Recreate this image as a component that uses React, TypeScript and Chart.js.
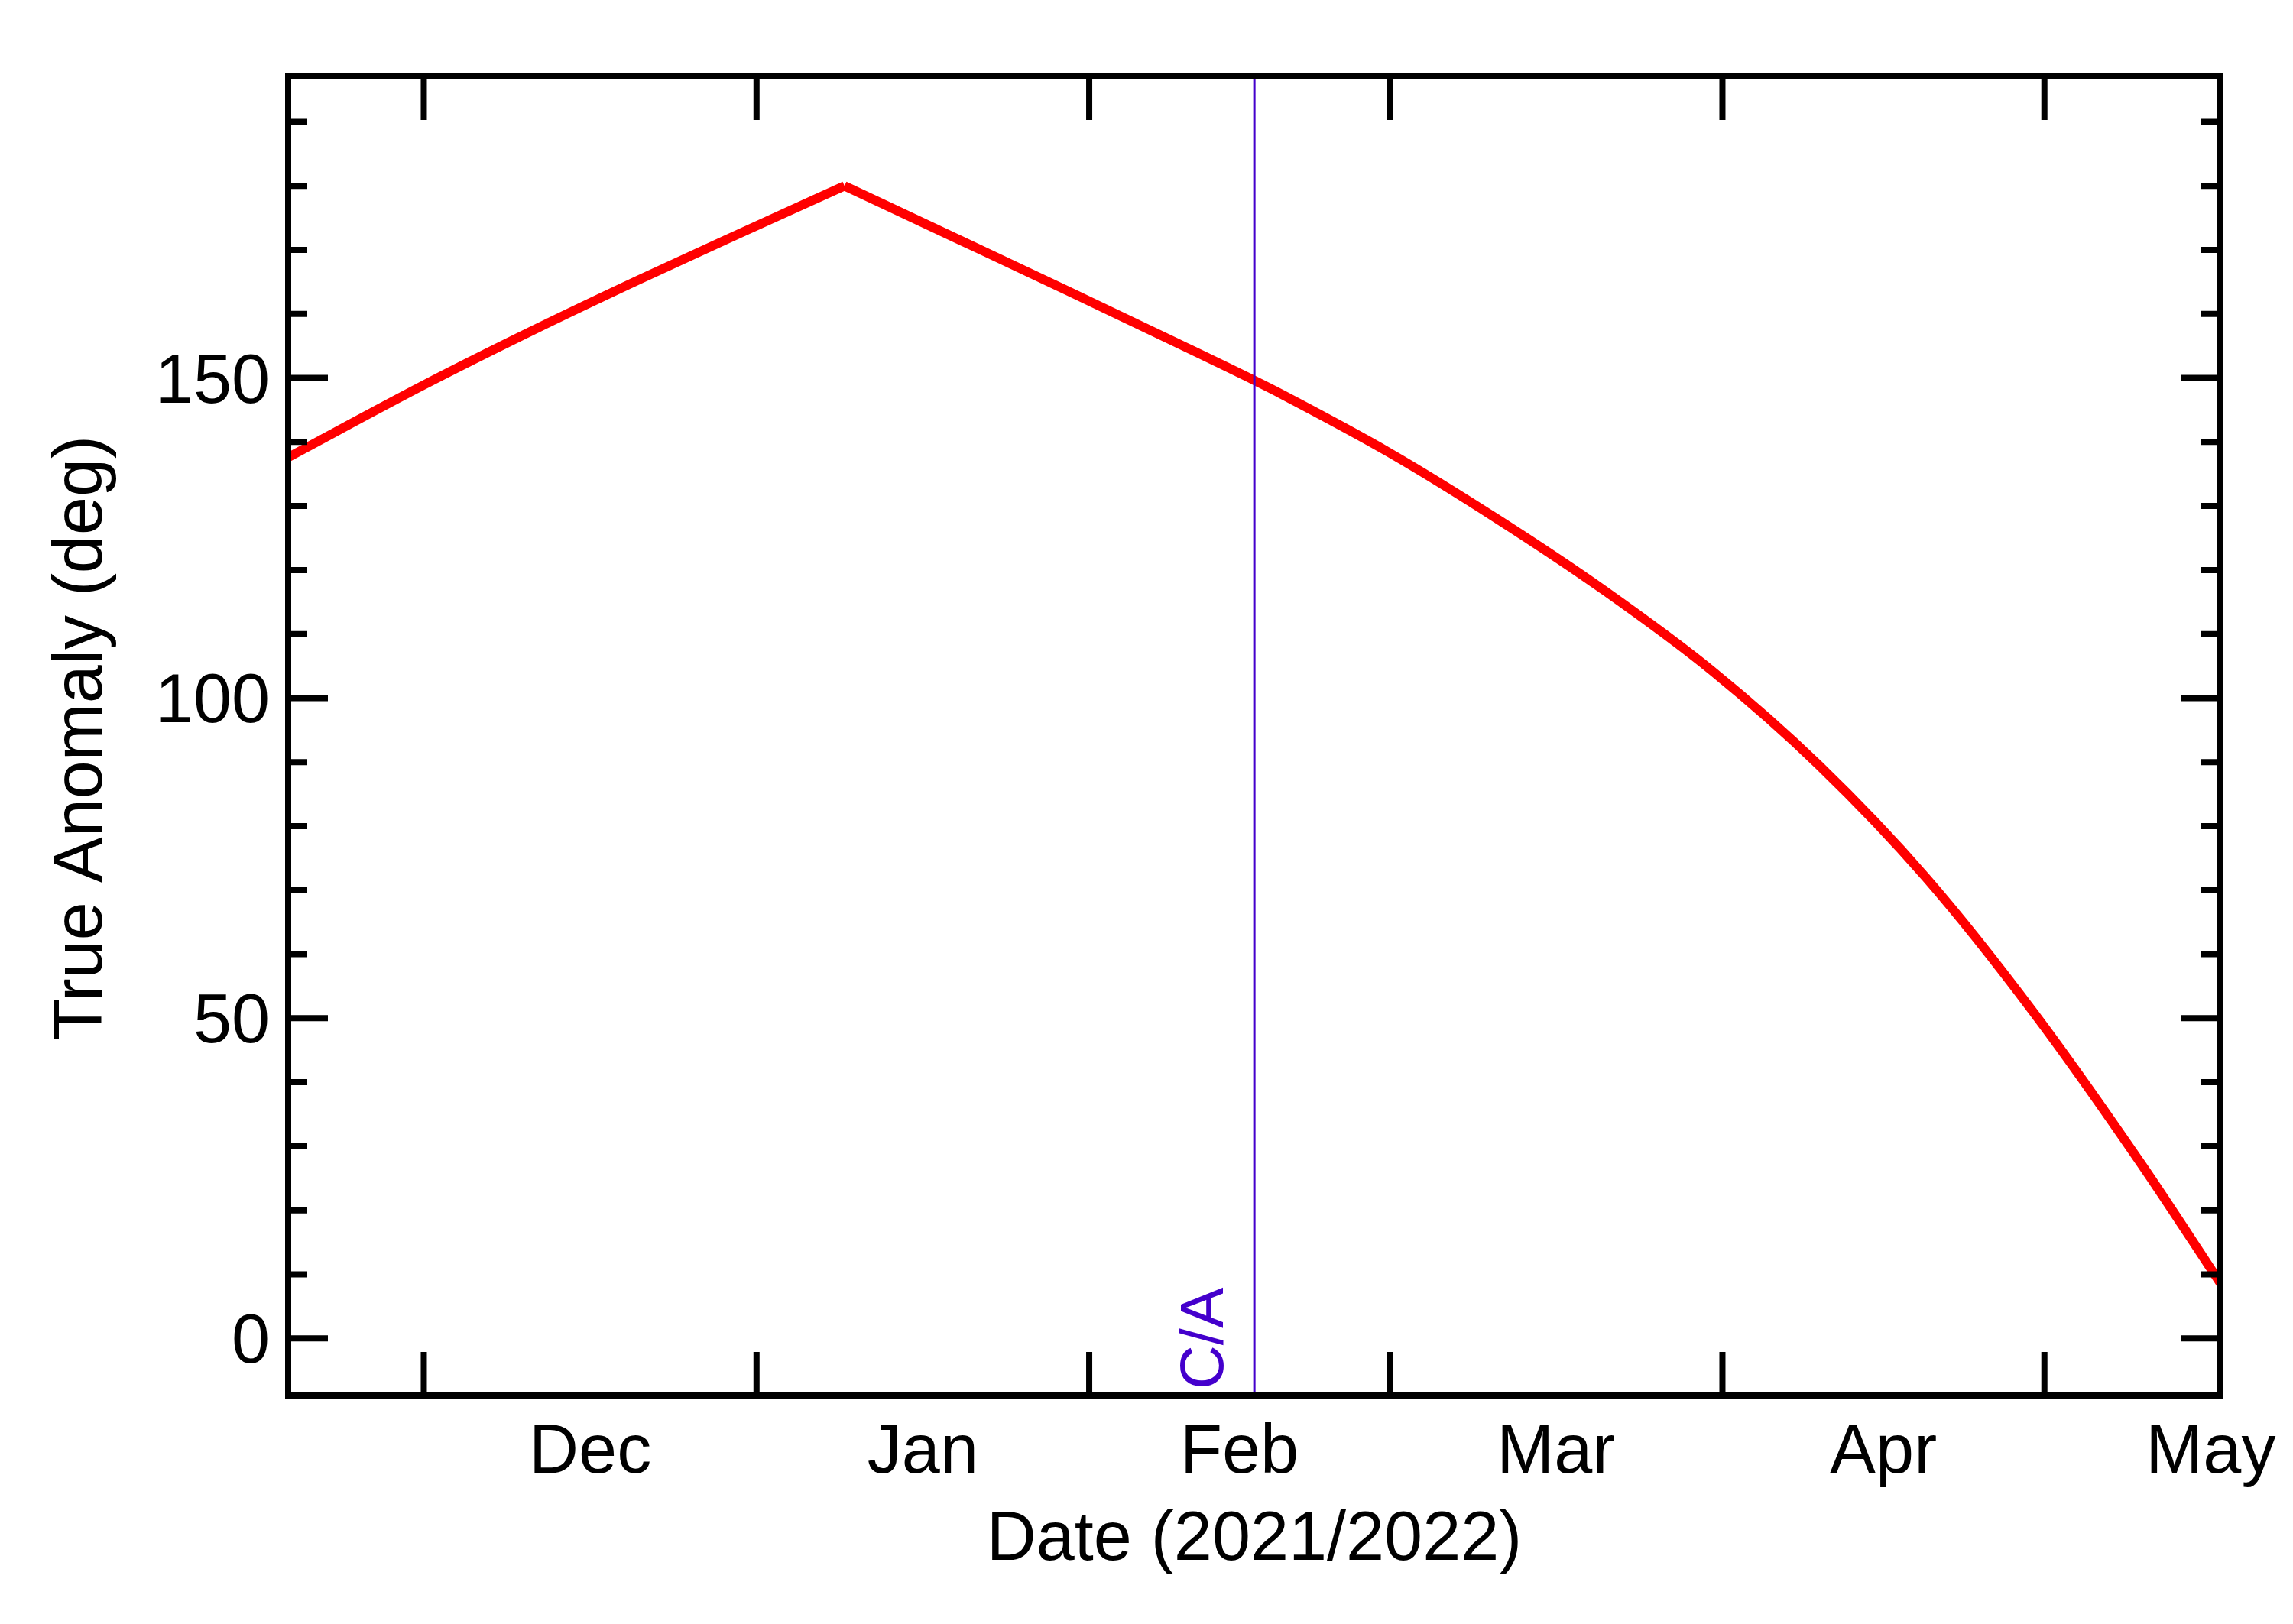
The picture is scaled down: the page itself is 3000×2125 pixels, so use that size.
import React, { useEffect, useRef } from "react";
import { Chart, registerables } from "chart.js";

Chart.register(...registerables);

// ---- data (days since 2021-12-01, true anomaly in degrees) ----
const days = [-12.64, 0, 10, 20, 30, 39.2, 50, 60, 70, 77.4, 80, 90, 100, 110, 120, 130, 140, 150, 160, 167.4];
const anomaly = [137.6, 148.9, 157.3, 165.3, 173.0, 180.0, 171.5, 163.6, 155.6, 149.6, 147.4, 138.3, 128.0, 116.8, 104.3, 89.5, 71.9, 50.9, 27.3, 8.6];

const monthStarts = [0, 31, 62, 90, 121, 151];
const monthLabelPos = [15.5, 46.5, 76, 105.5, 136, 166.5];
const monthLabels = ["Dec", "Jan", "Feb", "Mar", "Apr", "May"];
const yTickValues = [0, 10, 20, 30, 40, 50, 60, 70, 80, 90, 100, 110, 120, 130, 140, 150, 160, 170, 180, 190];
const yLabelValues = [0, 50, 100, 150];
const closeApproachDay = 77.39;

const X_MIN = -12.64;
const X_MAX = 167.4;
const Y_MIN = -8.93;
const Y_MAX = 197.1;

const FONT = '"Liberation Sans", Arial, Helvetica, sans-serif';
const CA_COLOR = "#4400CC";
const LINE_COLOR = "#FF0000";

const framePlugin = {
  id: "idlFrame",
  afterDatasetsDraw(chart: any) {
    const { ctx, chartArea: a, scales } = chart;
    const x = scales.x;
    const y = scales.y;
    ctx.save();

    // C/A vertical line
    const cx = x.getPixelForValue(closeApproachDay);
    ctx.strokeStyle = CA_COLOR;
    ctx.lineWidth = 3;
    ctx.beginPath();
    ctx.moveTo(cx, a.top);
    ctx.lineTo(cx, a.bottom);
    ctx.stroke();

    // C/A label
    ctx.save();
    ctx.translate(cx - 41, a.bottom - 8);
    ctx.rotate(-Math.PI / 2);
    ctx.font = `80px ${FONT}`;
    ctx.fillStyle = CA_COLOR;
    ctx.textAlign = "left";
    ctx.textBaseline = "alphabetic";
    ctx.fillText("C/A", 0, 0);
    ctx.restore();

    // ticks
    ctx.strokeStyle = "#000";
    ctx.lineWidth = 8;
    ctx.lineCap = "butt";
    ctx.beginPath();
    for (const d of monthStarts) {
      const px = x.getPixelForValue(d);
      ctx.moveTo(px, a.bottom);
      ctx.lineTo(px, a.bottom - 57);
      ctx.moveTo(px, a.top);
      ctx.lineTo(px, a.top + 57);
    }
    for (const v of yTickValues) {
      const py = y.getPixelForValue(v);
      const len = v % 50 === 0 ? 52 : 25;
      ctx.moveTo(a.left, py);
      ctx.lineTo(a.left + len, py);
      ctx.moveTo(a.right, py);
      ctx.lineTo(a.right - len, py);
    }
    ctx.stroke();

    // frame
    ctx.lineJoin = "miter";
    ctx.strokeRect(a.left, a.top, a.right - a.left, a.bottom - a.top);

    // tick labels
    ctx.fillStyle = "#000";
    ctx.font = `90px ${FONT}`;
    ctx.textBaseline = "alphabetic";
    ctx.textAlign = "center";
    monthLabels.forEach((lab, i) => {
      ctx.fillText(lab, x.getPixelForValue(monthLabelPos[i]), a.bottom + 101);
    });
    ctx.textAlign = "right";
    for (const v of yLabelValues) {
      ctx.fillText(String(v), a.left - 24, y.getPixelForValue(v) + 32);
    }

    // axis titles
    ctx.textAlign = "center";
    ctx.fillText("Date (2021/2022)", (a.left + a.right) / 2, a.bottom + 215);
    ctx.save();
    ctx.translate(133, (a.top + a.bottom) / 2 + 3);
    ctx.rotate(-Math.PI / 2);
    ctx.fillText("True Anomaly (deg)", 0, 0);
    ctx.restore();

    ctx.restore();
  },
};

export default function App() {
  const ref = useRef<HTMLCanvasElement | null>(null);

  useEffect(() => {
    if (!ref.current) return;
    let peak = 0;
    anomaly.forEach((v, i) => {
      if (v > anomaly[peak]) peak = i;
    });
    const pts = days.map((d, i) => ({ x: d, y: anomaly[i] }));
    const common = {
      borderColor: LINE_COLOR,
      borderWidth: 12,
      pointRadius: 0,
      fill: false,
      cubicInterpolationMode: "monotone" as const,
    };
    const chart = new Chart(ref.current, {
      type: "line",
      data: {
        datasets: [
          { ...common, label: "rise", data: pts.slice(0, peak + 1) },
          { ...common, label: "fall", data: pts.slice(peak) },
        ],
      },
      options: {
        responsive: false,
        animation: false,
        devicePixelRatio: 1,
        layout: { padding: { left: 377, right: 95, top: 100, bottom: 299 } },
        plugins: { legend: { display: false }, tooltip: { enabled: false } },
        scales: {
          x: { type: "linear", min: X_MIN, max: X_MAX, display: false },
          y: { type: "linear", min: Y_MIN, max: Y_MAX, display: false },
        },
      },
      plugins: [framePlugin],
    });
    return () => chart.destroy();
  }, []);

  return (
    <div style={{ position: "absolute", left: 0, top: 0, width: 3000, height: 2125, background: "#fff" }}>
      <canvas ref={ref} width={3000} height={2125} style={{ width: 3000, height: 2125, display: "block" }} />
    </div>
  );
}
